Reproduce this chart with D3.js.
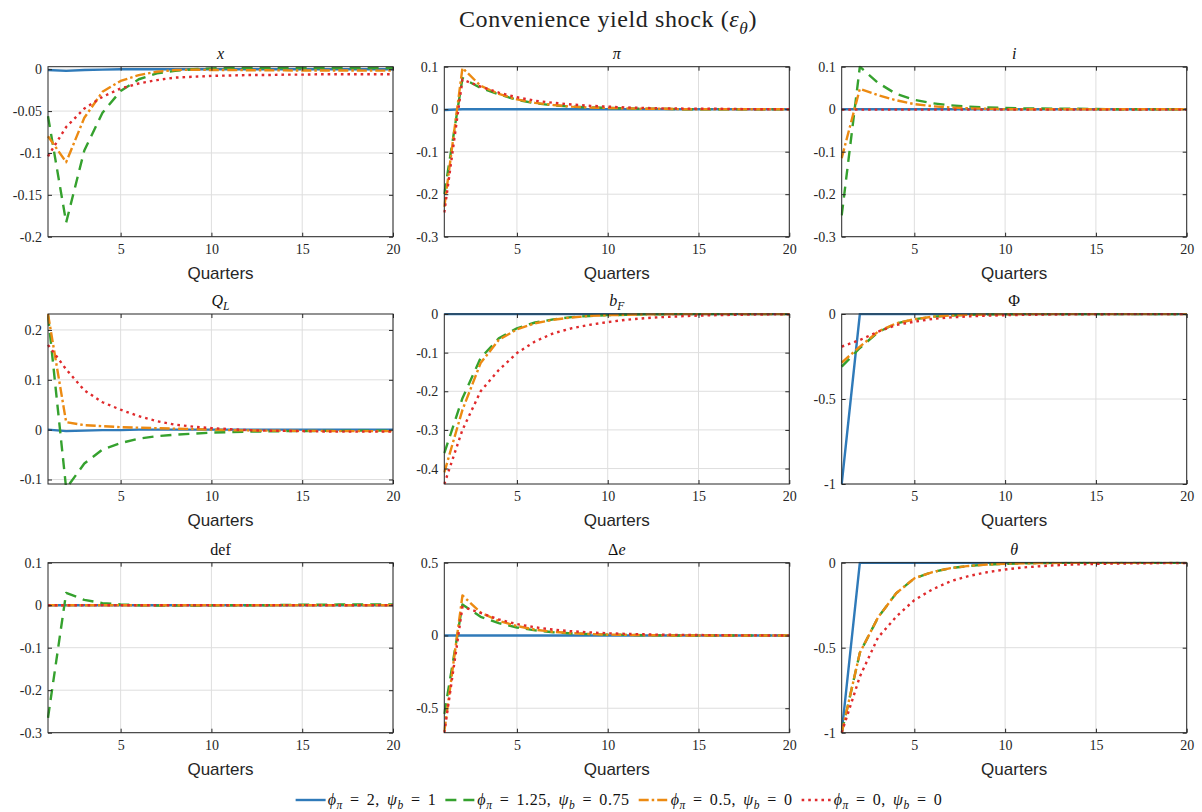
<!DOCTYPE html>
<html>
<head>
<meta charset="utf-8">
<script src="https://cdn.jsdelivr.net/npm/d3@7"></script>
<style>
  body { margin: 0; background: #ffffff; }
  svg { display: block; }
</style>
</head>
<body>
<svg id="chart" width="1202" height="812"></svg>
<script>
// ---------------------------------------------------------------
// Impulse responses to a convenience yield shock, four policy mixes
// ---------------------------------------------------------------
const quarters = [1,2,3,4,5,6,7,8,9,10,11,12,13,14,15,16,17,18,19,20];
const xTicks = [5, 10, 15, 20];

// series order: [phi_pi=2,psi_b=1], [1.25,0.75], [0.5,0], [0,0]
const outputGap = [
  [-0.001,-0.002,-0.001,-0.0005,0,0,0,0,0,0,0,0,0,0,0,0,0,0,0,0],
  [-0.056,-0.183,-0.097,-0.052,-0.026,-0.012,-0.005,-0.002,0,0.001,0.0015,0.0015,0.0015,0.0015,0.0015,0.0015,0.0015,0.0015,0.0015,0.0015],
  [-0.080,-0.111,-0.058,-0.027,-0.014,-0.007,-0.003,-0.001,-0.0005,-0.001,-0.001,-0.0012,-0.0013,-0.0014,-0.0015,-0.0015,-0.0016,-0.0016,-0.0017,-0.0017],
  [-0.104,-0.069,-0.047,-0.033,-0.023,-0.017,-0.013,-0.010,-0.009,-0.008,-0.0075,-0.007,-0.007,-0.0065,-0.0065,-0.006,-0.006,-0.006,-0.006,-0.006]
];
const inflation = [
  [-0.002,0,0,0,0,0,0,0,0,0,0,0,0,0,0,0,0,0,0,0],
  [-0.200,0.073,0.050,0.035,0.022,0.014,0.009,0.006,0.004,0.003,0.002,0.001,0.001,0,0,0,0,0,0,0],
  [-0.230,0.097,0.055,0.036,0.023,0.015,0.010,0.006,0.004,0.003,0.002,0.001,0.001,0,0,0,0,0,0,0],
  [-0.243,0.070,0.053,0.039,0.028,0.020,0.015,0.011,0.008,0.006,0.004,0.003,0.002,0.0015,0.001,0.001,0.0005,0,0,0]
];
const policyRate = [
  [0,0,0,0,0,0,0,0,0,0,0,0,0,0,0,0,0,0,0,0],
  [-0.250,0.100,0.062,0.036,0.022,0.014,0.009,0.006,0.004,0.003,0.002,0.0015,0.001,0.001,0.0005,0,0,0,0,0],
  [-0.115,0.048,0.033,0.021,0.012,0.007,0.004,0.002,0.001,0,0,0,0,0,0,0,0,0,0,0],
  [-0.001,-0.001,-0.001,-0.001,-0.001,-0.001,-0.001,-0.001,-0.001,-0.001,-0.001,-0.001,-0.001,-0.001,-0.001,-0.001,-0.001,-0.001,-0.001,-0.001]
];
const longBondPrice = [
  [0,-0.003,-0.002,-0.001,-0.001,0,0,0,0,0,0,0,0,0,0,0,0,0,0,0],
  [0.230,-0.118,-0.068,-0.040,-0.027,-0.018,-0.013,-0.010,-0.008,-0.006,-0.005,-0.004,-0.0035,-0.003,-0.003,-0.0025,-0.0025,-0.002,-0.002,-0.002],
  [0.232,0.015,0.009,0.007,0.005,0.004,0.003,0.002,0.001,0,-0.001,-0.0015,-0.002,-0.002,-0.0025,-0.0025,-0.003,-0.003,-0.003,-0.003],
  [0.170,0.121,0.079,0.055,0.040,0.027,0.017,0.010,0.006,0.003,0.001,-0.001,-0.002,-0.0025,-0.003,-0.0035,-0.004,-0.004,-0.004,-0.004]
];
const foreignBonds = [
  [0,0,0,0,0,0,0,0,0,0,0,0,0,0,0,0,0,0,0,0],
  [-0.360,-0.218,-0.114,-0.063,-0.037,-0.022,-0.014,-0.008,-0.005,-0.003,-0.002,-0.001,-0.001,0,0,0,0,0,0,0],
  [-0.410,-0.248,-0.127,-0.067,-0.040,-0.024,-0.015,-0.009,-0.005,-0.003,-0.002,-0.001,-0.001,0,0,0,0,0,0,0],
  [-0.440,-0.300,-0.200,-0.145,-0.101,-0.071,-0.050,-0.037,-0.028,-0.021,-0.015,-0.011,-0.008,-0.006,-0.004,-0.003,-0.002,-0.0015,-0.001,-0.001]
];
const bigPhi = [
  [-1,0,0,0,0,0,0,0,0,0,0,0,0,0,0,0,0,0,0,0],
  [-0.310,-0.200,-0.107,-0.056,-0.031,-0.016,-0.009,-0.005,-0.003,-0.002,-0.001,0,0,0,0,0,0,0,0,0],
  [-0.286,-0.192,-0.104,-0.055,-0.031,-0.016,-0.009,-0.005,-0.003,-0.002,-0.001,0,0,0,0,0,0,0,0,0],
  [-0.192,-0.153,-0.104,-0.065,-0.045,-0.029,-0.020,-0.014,-0.010,-0.007,-0.005,-0.004,-0.003,-0.002,-0.0015,-0.001,-0.001,-0.0005,0,0]
];
const deficit = [
  [0,0,0,0,0,0,0,0,0,0,0,0,0,0,0,0,0,0,0,0],
  [-0.265,0.029,0.0125,0.005,0.002,0,-0.001,-0.001,-0.001,-0.0005,0,0,0,0.0005,0.001,0.001,0.0015,0.0015,0.002,0.002],
  [0,0,0,0,0,0,0,0,0,0,0,0,0,0,0,0,0,0,0,0],
  [0,0,0,0,0,0,0,0,0,0,0,0,0,0,0,0,0,0,0,0]
];
const depreciation = [
  [0,0,0,0,0,0,0,0,0,0,0,0,0,0,0,0,0,0,0,0],
  [-0.540,0.213,0.128,0.085,0.055,0.035,0.022,0.014,0.009,0.006,0.004,0.002,0.001,0,0,0,0,0,0,0],
  [-0.660,0.275,0.158,0.100,0.065,0.040,0.025,0.016,0.010,0.006,0.004,0.002,0.001,0,0,0,0,0,0,0],
  [-0.668,0.197,0.155,0.110,0.078,0.056,0.040,0.029,0.021,0.015,0.011,0.008,0.005,0.004,0.003,0.002,0.001,0.001,0,0]
];
const convenienceYield = [
  [-1,0,0,0,0,0,0,0,0,0,0,0,0,0,0,0,0,0,0,0],
  [-1,-0.530,-0.322,-0.180,-0.092,-0.055,-0.032,-0.019,-0.011,-0.006,-0.004,-0.002,-0.001,0,0,0,0,0,0,0],
  [-1,-0.530,-0.322,-0.180,-0.092,-0.055,-0.032,-0.019,-0.011,-0.006,-0.004,-0.002,-0.001,0,0,0,0,0,0,0],
  [-1,-0.670,-0.440,-0.318,-0.220,-0.157,-0.109,-0.078,-0.056,-0.040,-0.028,-0.020,-0.014,-0.010,-0.007,-0.005,-0.004,-0.003,-0.002,-0.0015]
];

// axis limits and tick labels per panel
const yDomains = [
  [-0.2, 0.003], [-0.3, 0.1], [-0.3, 0.1],
  [-0.109, 0.232], [-0.44, 0], [-1, 0],
  [-0.3, 0.1], [-0.668, 0.5], [-1, 0]
];
const yTickSets = [
  [-0.2, -0.15, -0.1, -0.05, 0], [-0.3, -0.2, -0.1, 0, 0.1], [-0.3, -0.2, -0.1, 0, 0.1],
  [-0.1, 0, 0.1, 0.2], [-0.4, -0.3, -0.2, -0.1, 0], [-1, -0.5, 0],
  [-0.3, -0.2, -0.1, 0, 0.1], [-0.5, 0, 0.5], [-1, -0.5, 0]
];
const panelSeries = [outputGap, inflation, policyRate, longBondPrice, foreignBonds, bigPhi, deficit, depreciation, convenienceYield];

// panel titles as rich text pieces (it = italic, sub = subscript)
const panelTitles = [
  [{t: "x", it: true}],
  [{t: "π", it: true}],
  [{t: "i", it: true}],
  [{t: "Q", it: true}, {t: "L", it: true, sub: true}],
  [{t: "b", it: true}, {t: "F", it: true, sub: true}],
  [{t: "Φ"}],
  [{t: "def"}],
  [{t: "Δ"}, {t: "e", it: true}],
  [{t: "θ", it: true}]
];
const legendLabels = [
  [{t: "ϕ", it: true}, {t: "π", it: true, sub: true}, {t: " = 2,  "}, {t: "ψ", it: true}, {t: "b", it: true, sub: true}, {t: " = 1"}],
  [{t: "ϕ", it: true}, {t: "π", it: true, sub: true}, {t: " = 1.25,  "}, {t: "ψ", it: true}, {t: "b", it: true, sub: true}, {t: " = 0.75"}],
  [{t: "ϕ", it: true}, {t: "π", it: true, sub: true}, {t: " = 0.5,  "}, {t: "ψ", it: true}, {t: "b", it: true, sub: true}, {t: " = 0"}],
  [{t: "ϕ", it: true}, {t: "π", it: true, sub: true}, {t: " = 0,  "}, {t: "ψ", it: true}, {t: "b", it: true, sub: true}, {t: " = 0"}]
];
const seriesColors = ["#2f7ab9", "#35a12e", "#ec8a12", "#e02a2c"];
const seriesDash = [null, "11,7", "10,3,2.5,3", "2.6,4"];

// ---------------------------------------------------------------
const svg = d3.select("#chart");
const serif = "'Liberation Serif', 'DejaVu Serif', serif";
const sans = "'Liberation Sans', Arial, sans-serif";
const axisColor = "#262626";

const colLeft = [48, 444.3, 841.7];
const rowTop = [66.7, 314, 562.7];
const plotW = 345, plotH = 170;

function richText(sel, parts, size) {
  let shift = 0;
  parts.forEach(p => {
    const target = p.sub ? size * 0.28 : 0;
    const ts = sel.append("tspan").text(p.t).attr("dy", target - shift);
    if (p.it) ts.attr("font-style", "italic");
    if (p.sub) ts.attr("font-size", size * 0.72);
    shift = target;
  });
}

svg.append("rect").attr("width", 1202).attr("height", 812).attr("fill", "#ffffff");

// figure title
const title = svg.append("text")
  .attr("x", 608).attr("y", 27)
  .attr("text-anchor", "middle")
  .attr("font-family", serif).attr("font-size", 24)
  .attr("letter-spacing", 0.6)
  .attr("fill", "#222");
richText(title, [{t: "Convenience yield shock ("}, {t: "ε", it: true}, {t: "θ", it: true, sub: true}, {t: ")"}], 24);

const line = d3.line();

panelSeries.forEach((series, k) => {
  const r = Math.floor(k / 3), c = k % 3;
  const g = svg.append("g").attr("transform", `translate(${colLeft[c]},${rowTop[r]})`);
  const x = d3.scaleLinear().domain([1, 20]).range([0, plotW]);
  const y = d3.scaleLinear().domain(yDomains[k]).range([plotH, 0]);

  // grid
  g.append("g").selectAll("line").data(xTicks).join("line")
    .attr("x1", d => x(d)).attr("x2", d => x(d)).attr("y1", 0).attr("y2", plotH)
    .attr("stroke", "#dedede").attr("stroke-width", 1);
  g.append("g").selectAll("line").data(yTickSets[k]).join("line")
    .attr("x1", 0).attr("x2", plotW).attr("y1", d => y(d)).attr("y2", d => y(d))
    .attr("stroke", "#dedede").attr("stroke-width", 1);

  // data lines, clipped to the plot box
  const clipId = "clip" + k;
  g.append("clipPath").attr("id", clipId).append("rect")
    .attr("x", -1).attr("y", -1).attr("width", plotW + 2).attr("height", plotH + 2);
  const lines = g.append("g").attr("clip-path", `url(#${clipId})`);
  line.x((d, i) => x(quarters[i])).y(d => y(d));
  series.forEach((vals, s) => {
    lines.append("path")
      .attr("d", line(vals))
      .attr("fill", "none")
      .attr("stroke", seriesColors[s])
      .attr("stroke-width", 2.4)
      .attr("stroke-linejoin", "round")
      .attr("stroke-dasharray", seriesDash[s]);
  });

  // axes with inward ticks on all four sides
  const fmt = d => (d === 0 ? "0" : d3.format("")(d).replace("−", "-"));
  const ax = d3.axisBottom(x).tickValues(xTicks).tickSize(-4).tickPadding(7);
  const axB = g.append("g").attr("transform", `translate(0,${plotH})`).call(ax);
  const axT = g.append("g").call(d3.axisTop(x).tickValues(xTicks).tickSize(-4).tickFormat(""));
  const ay = d3.axisLeft(y).tickValues(yTickSets[k]).tickSize(-4).tickPadding(6).tickFormat(fmt);
  const axL = g.append("g").call(ay);
  const axR = g.append("g").attr("transform", `translate(${plotW},0)`)
    .call(d3.axisRight(y).tickValues(yTickSets[k]).tickSize(-4).tickFormat(""));
  [axB, axT, axL, axR].forEach(a => {
    a.select(".domain").remove();
    a.selectAll("line").attr("stroke", axisColor);
    a.selectAll("text").attr("font-family", serif).attr("font-size", 14).attr("fill", axisColor);
  });

  g.append("rect").attr("width", plotW).attr("height", plotH)
    .attr("fill", "none").attr("stroke", axisColor).attr("stroke-width", 1);

  // panel title
  const pt = g.append("text").attr("x", plotW / 2).attr("y", -8)
    .attr("text-anchor", "middle").attr("font-family", serif)
    .attr("font-size", 16).attr("fill", "#111");
  richText(pt, panelTitles[k], 16);

  // x axis label
  g.append("text").attr("x", plotW / 2).attr("y", plotH + 42)
    .attr("text-anchor", "middle").attr("font-family", sans)
    .attr("font-size", 17).attr("fill", axisColor).text("Quarters");
});

// legend along the bottom
const legend = svg.append("g");
let cursor = 0;
legendLabels.forEach((parts, s) => {
  const it = legend.append("g");
  it.append("line").attr("x1", 0).attr("x2", 30).attr("y1", 0).attr("y2", 0)
    .attr("stroke", seriesColors[s]).attr("stroke-width", 2.4)
    .attr("stroke-dasharray", seriesDash[s]);
  const t = it.append("text").attr("x", 32).attr("y", 5)
    .attr("font-family", serif).attr("font-size", 16)
    .attr("letter-spacing", 0.6).attr("word-spacing", 2.5).attr("fill", "#111");
  richText(t, parts, 16);
  const w = 32 + t.node().getComputedTextLength();
  it.attr("transform", `translate(${cursor},0)`);
  cursor += w + 9;
});
const total = cursor - 9;
legend.attr("transform", `translate(${619 - total / 2},800)`);
</script>
</body>
</html>
